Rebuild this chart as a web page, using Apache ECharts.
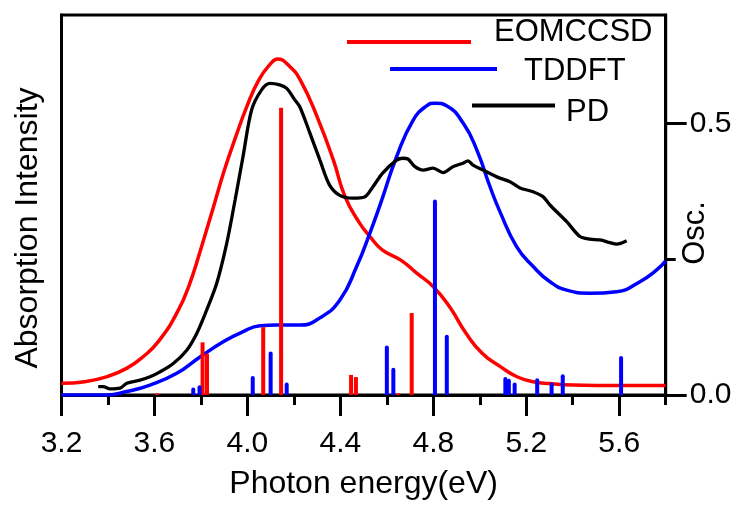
<!DOCTYPE html>
<html>
<head>
<meta charset="utf-8">
<script src="https://cdn.jsdelivr.net/npm/echarts@6/dist/echarts.min.js"></script>
<style>
html,body{margin:0;padding:0;background:#fff;}
#chart{width:739px;height:505px;}
</style>
</head>
<body>
<div id="chart"></div>
<script>
// ---- data ----
const xMajorTicks = [3.2, 3.6, 4.0, 4.4, 4.8, 5.2, 5.6];
const xMinorTicks = [3.4, 3.8, 4.2, 4.6, 5.0, 5.4, 5.8];
const oscMajorTicks = [0, 0.5];
const oscMinorTicks = [0.25];

// EOMCCSD broadened spectrum (energy eV, relative intensity)
const eomE = [3.2,3.3,3.4,3.48,3.55,3.62,3.7,3.75,3.8,3.85,3.9,3.95,4.0,4.05,4.1,4.13,4.18,4.23,4.3,4.37,4.42,4.48,4.53,4.58,4.66,4.73,4.8,4.87,4.94,5.01,5.09,5.16,5.23,5.3,5.4,5.5,5.8];
const eomI = [0.031,0.035,0.049,0.07,0.1,0.143,0.22,0.29,0.385,0.487,0.59,0.68,0.763,0.83,0.872,0.884,0.866,0.826,0.732,0.618,0.522,0.455,0.415,0.382,0.355,0.32,0.285,0.232,0.163,0.11,0.074,0.048,0.035,0.03,0.026,0.025,0.025];

// TDDFT broadened spectrum
const tdE = [3.2,3.394,3.48,3.581,3.696,3.796,3.896,3.982,4.054,4.126,4.226,4.312,4.398,4.47,4.527,4.578,4.642,4.714,4.771,4.807,4.857,4.929,4.987,5.044,5.087,5.159,5.23,5.302,5.374,5.474,5.589,5.689,5.761,5.8];
const tdI = [0,0,0.009,0.026,0.057,0.1,0.14,0.167,0.182,0.184,0.184,0.203,0.25,0.338,0.426,0.513,0.627,0.724,0.761,0.768,0.761,0.715,0.645,0.548,0.482,0.39,0.338,0.298,0.276,0.268,0.272,0.298,0.329,0.353];

// PD experimental spectrum
const pdE = [3.358,3.379,3.409,3.452,3.481,3.538,3.581,3.624,3.681,3.739,3.782,3.825,3.868,3.911,3.947,3.981,4.018,4.061,4.097,4.139,4.169,4.205,4.226,4.269,4.312,4.353,4.396,4.452,4.504,4.539,4.582,4.642,4.669,4.691,4.721,4.756,4.799,4.842,4.885,4.928,4.949,4.971,5.014,5.073,5.13,5.173,5.229,5.272,5.302,5.374,5.431,5.474,5.517,5.56,5.589,5.632];
const pdI = [0.022,0.022,0.016,0.018,0.031,0.039,0.048,0.061,0.083,0.118,0.162,0.224,0.294,0.399,0.513,0.627,0.75,0.803,0.82,0.816,0.807,0.776,0.758,0.689,0.618,0.553,0.526,0.518,0.521,0.547,0.584,0.618,0.623,0.621,0.601,0.592,0.597,0.585,0.601,0.61,0.616,0.605,0.592,0.574,0.561,0.545,0.535,0.522,0.5,0.456,0.417,0.41,0.408,0.401,0.397,0.406];

// Oscillator strengths (sticks)
const eomStickE = [3.61,3.807,3.826,4.068,4.145,4.446,4.467,4.647,4.707];
const eomStickF = [0.003,0.097,0.076,0.125,0.529,0.037,0.033,0.003,0.151];
const tdStickE = [3.767,3.794,4.023,4.10,4.169,4.60,4.628,4.807,4.858,5.110,5.125,5.15,5.247,5.309,5.357,5.608];
const tdStickF = [0.014,0.018,0.035,0.08,0.023,0.091,0.05,0.36,0.111,0.033,0.030,0.023,0.031,0.023,0.038,0.072];

const zip = (a, b) => a.map((v, i) => [v, b[i]]);
const FONT = '"Liberation Sans", Arial, sans-serif';

function legendText(pad) {
  return {
    fontSize: 31, fontFamily: FONT, color: '#000',
    rich: {t: {fontSize: 31, fontFamily: FONT, color: '#000', lineHeight: 31, padding: pad}}
  };
}

const chart = echarts.init(document.getElementById('chart'), null, {renderer: 'canvas'});
chart.setOption({
  animation: false,
  backgroundColor: '#fff',
  grid: {left: 61.5, right: 73.3, top: 15, bottom: 110, show: true, borderColor: '#000', borderWidth: 3, outerBoundsMode: 'none'},
  legend: [
    {data: ['EOMCCSD'], left: 347, top: 17, padding: 0, icon: 'rect', itemWidth: 124, itemHeight: 4,
     formatter: n => '{t|' + n + '}', textStyle: legendText([0, 0, 19, 18])},
    {data: ['TDDFT'], left: 390, top: 51, padding: 0, icon: 'rect', itemWidth: 107, itemHeight: 4,
     formatter: n => '{t|' + n + '}', textStyle: legendText([5, 0, 0, 22])},
    {data: ['PD'], left: 472, top: 83, padding: 0, icon: 'rect', itemWidth: 83, itemHeight: 4,
     formatter: n => '{t|' + n + '}', textStyle: legendText([14, 0, 0, 6])}
  ],
  xAxis: [
    {type: 'value', position: 'bottom', min: 3.2, max: 5.8, interval: 0.4,
     name: 'Photon energy(eV)', nameLocation: 'middle', nameGap: 73, nameMoveOverlap: false,
     nameTextStyle: {fontSize: 32, fontFamily: FONT, color: '#000'},
     axisLine: {show: true, lineStyle: {color: '#000', width: 3}},
     axisTick: {show: true, length: 21, customValues: xMajorTicks, lineStyle: {color: '#000', width: 3}},
     axisLabel: {show: true, customValues: xMajorTicks, margin: 34, fontSize: 30, fontFamily: FONT, color: '#000',
       formatter: v => v.toFixed(1)},
     splitLine: {show: false}},
    {type: 'value', position: 'bottom', min: 3.2, max: 5.8, interval: 0.4,
     axisLine: {show: false},
     axisTick: {show: true, length: 10, customValues: xMinorTicks, lineStyle: {color: '#000', width: 3}},
     axisLabel: {show: false}, splitLine: {show: false}}
  ],
  yAxis: [
    {type: 'value', position: 'left', min: 0, max: 1,
     name: 'Absorption Intensity', nameLocation: 'middle', nameRotate: 90, nameGap: 17, nameMoveOverlap: false,
     nameTextStyle: {fontSize: 32, fontFamily: FONT, color: '#000', padding: [0, 46, 0, 0]},
     axisLine: {show: true, lineStyle: {color: '#000', width: 3}},
     axisTick: {show: false}, axisLabel: {show: false}, splitLine: {show: false}},
    {type: 'value', position: 'right', min: 0, max: 0.7, interval: 0.5,
     name: 'Osc.', nameLocation: 'middle', nameRotate: 90, nameGap: 14, nameMoveOverlap: false,
     nameTextStyle: {fontSize: 31, fontFamily: FONT, color: '#000', padding: [0, 56, 0, 0]},
     axisLine: {show: true, lineStyle: {color: '#000', width: 3}},
     axisTick: {show: true, length: 21, customValues: oscMajorTicks, lineStyle: {color: '#000', width: 3}},
     axisLabel: {show: true, customValues: oscMajorTicks, margin: 24, fontSize: 30, fontFamily: FONT, color: '#000',
       formatter: v => v.toFixed(1)},
     splitLine: {show: false}},
    {type: 'value', position: 'right', min: 0, max: 0.7, interval: 0.5,
     axisLine: {show: false},
     axisTick: {show: true, length: 10, customValues: oscMinorTicks, lineStyle: {color: '#000', width: 3}},
     axisLabel: {show: false}, splitLine: {show: false}}
  ],
  series: [
    {name: 'EOMCCSD', type: 'line', xAxisIndex: 0, yAxisIndex: 0, data: zip(eomE, eomI), symbol: 'none',
     smooth: 0.5, lineStyle: {color: '#ff0000', width: 3.5}, itemStyle: {color: '#ff0000'}, z: 3},
    {name: 'TDDFT', type: 'line', xAxisIndex: 0, yAxisIndex: 0, data: zip(tdE, tdI), symbol: 'none',
     smooth: 0.5, lineStyle: {color: '#0000ff', width: 3.5}, itemStyle: {color: '#0000ff'}, z: 3},
    {name: 'PD', type: 'line', xAxisIndex: 0, yAxisIndex: 0, data: zip(pdE, pdI), symbol: 'none',
     smooth: 0.3, lineStyle: {color: '#000', width: 3.3}, itemStyle: {color: '#000'}, z: 3},
    {name: 'EOMCCSD osc', type: 'bar', xAxisIndex: 0, yAxisIndex: 1, data: zip(eomStickE, eomStickF),
     barWidth: 4, barGap: '-100%', itemStyle: {color: '#ff0000'}, z: 4},
    {name: 'TDDFT osc', type: 'bar', xAxisIndex: 0, yAxisIndex: 1, data: zip(tdStickE, tdStickF),
     barWidth: 4, barGap: '-100%', itemStyle: {color: '#0000ff', borderRadius: [2, 2, 0, 0]}, z: 4}
  ]
});
</script>
</body>
</html>
